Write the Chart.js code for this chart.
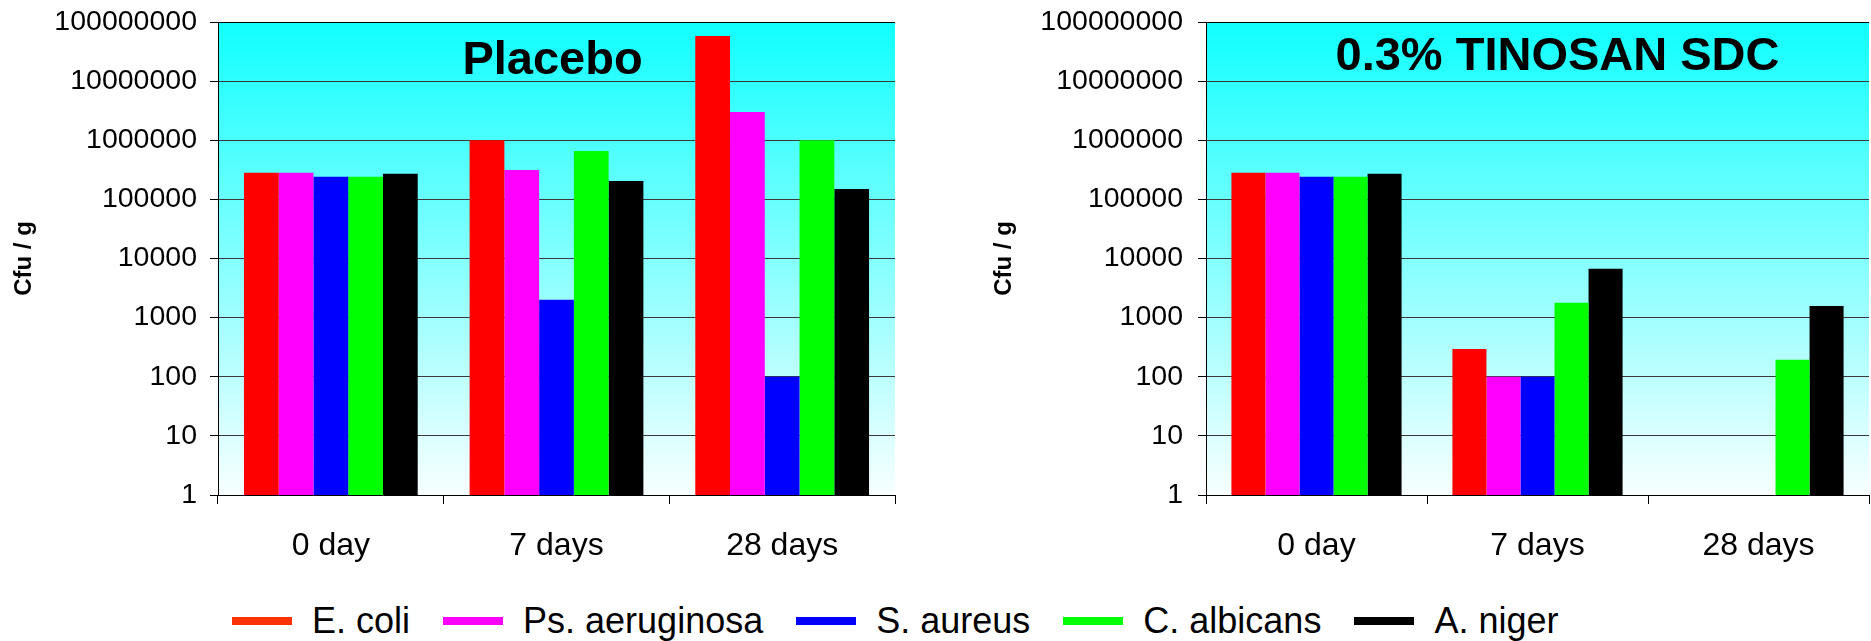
<!DOCTYPE html>
<html>
<head>
<meta charset="utf-8">
<script src="https://cdn.jsdelivr.net/npm/chart.js@4"></script>
<style>
  body { margin: 0; background: #fff; width: 1871px; height: 641px; position: relative; overflow: hidden; font-family: "Liberation Sans", Arial, sans-serif; }
  #leftChart { position: absolute; left: 0; top: 0; }
  #rightChart { position: absolute; left: 935px; top: 0; }
  #legend { position: absolute; left: 232px; top: 601px; display: flex; align-items: center; font-size: 36px; line-height: 40px; color: #000; white-space: nowrap; }
  #legend .item { display: flex; align-items: center; margin-right: 33px; }
  #legend .swatch { width: 60px; height: 8px; margin-right: 20px; }
</style>
</head>
<body>
<canvas id="leftChart" width="935" height="575"></canvas>
<canvas id="rightChart" width="936" height="575"></canvas>
<div id="legend"></div>
<script>
const days = ["0 day", "7 days", "28 days"];
const seriesNames = ["E. coli", "Ps. aeruginosa", "S. aureus", "C. albicans", "A. niger"];
const seriesColors = ["#ff0000", "#ff00ff", "#0000ff", "#00ff00", "#000000"];
const legendColors = ["#ff3300", "#ff00ff", "#0000ff", "#00ff00", "#000000"];

const yTicks = [1, 10, 100, 1000, 10000, 100000, 1000000, 10000000, 100000000];
const yTickLabels = ["1", "10", "100", "1000", "10000", "100000", "1000000", "10000000", "100000000"];

// Placebo
const placeboEColi = [281000, 1000000, 58000000];
const placeboPsAeruginosa = [281000, 315000, 3000000];
const placeboSAureus = [241000, 2000, 100];
const placeboCAlbicans = [241000, 660000, 1000000];
const placeboANiger = [271000, 205000, 150000];

// 0.3% TINOSAN SDC
const tinosanEColi = [281000, 296, null];
const tinosanPsAeruginosa = [281000, 100, null];
const tinosanSAureus = [241000, 100, null];
const tinosanCAlbicans = [241000, 1780, 193];
const tinosanANiger = [271000, 6700, 1580];

Chart.defaults.font.family = '"Liberation Sans", Arial, sans-serif';
Chart.defaults.color = "#000";

const gradientBackground = {
  id: "gradientBackground",
  beforeDraw(chart) {
    const { ctx, chartArea } = chart;
    const g = ctx.createLinearGradient(0, chartArea.top, 0, chartArea.bottom);
    g.addColorStop(0, "rgb(17, 255, 255)");
    g.addColorStop(1, "rgb(248, 255, 255)");
    ctx.save();
    ctx.fillStyle = g;
    ctx.fillRect(chartArea.left, chartArea.top, chartArea.right - chartArea.left, chartArea.bottom - chartArea.top);
    ctx.restore();
  },
};

const innerTitle = {
  id: "innerTitle",
  afterDraw(chart, args, opts) {
    const { ctx, chartArea } = chart;
    ctx.save();
    ctx.font = "bold 47px 'Liberation Sans', Arial, sans-serif";
    ctx.fillStyle = "#000";
    ctx.textAlign = "center";
    ctx.textBaseline = "alphabetic";
    ctx.fillText(opts.text, (chartArea.left + chartArea.right) / 2 + opts.dx, opts.baseline);
    ctx.restore();
  },
};

function makeDatasets(values) {
  return values.map((v, i) => ({
    label: seriesNames[i],
    data: v,
    backgroundColor: seriesColors[i],
    borderWidth: 0,
    barPercentage: 1,
    categoryPercentage: 0.77,
  }));
}

function createChart(id, title, values, cfg) {
  const ctx = document.getElementById(id).getContext("2d");
  return new Chart(ctx, {
    type: "bar",
    data: {
      labels: days,
      datasets: makeDatasets(values),
    },
    options: {
      responsive: false,
      animation: false,
      layout: {
        padding: { top: 22, right: cfg.padRight, left: 0, bottom: 0 },
      },
      scales: {
        x: {
          grid: {
            offset: true,
            drawOnChartArea: false,
            drawTicks: true,
            tickLength: 9,
            tickColor: "#000",
          },
          border: { display: true, color: "#000", width: 1 },
          ticks: {
            font: { size: 32 },
            color: "#000",
            padding: 23,
            maxRotation: 0,
            autoSkip: false,
          },
          afterFit(scale) {
            scale.height = 80;
          },
        },
        y: {
          type: "logarithmic",
          min: 1,
          max: 100000000,
          grid: {
            color: (c) => (c.tick && c.tick.value === 100000000 ? "#000" : "#3a3a3a"),
            tickColor: "#000",
            tickLength: 8,
          },
          border: { display: true, color: "#000", width: 1 },
          ticks: {
            font: { size: 28.5 },
            color: "#000",
            padding: cfg.tickPad,
            callback: (v) => yTickLabels[yTicks.indexOf(v)],
          },
          title: {
            display: true,
            text: "Cfu / g",
            font: { size: 24, weight: "bold" },
            color: "#000",
            padding: { top: cfg.titlePad, bottom: 0 },
          },
          afterBuildTicks(scale) {
            scale.ticks = yTicks.map((v) => ({ value: v }));
          },
          afterFit(scale) {
            scale.width = cfg.axisWidth;
            scale.paddingTop = 0;
            scale.paddingBottom = 0;
          },
        },
      },
      plugins: {
        legend: { display: false },
        tooltip: { enabled: false },
        innerTitle: { text: title, dx: cfg.titleDx, baseline: cfg.titleBaseline },
      },
    },
    plugins: [gradientBackground, innerTitle],
  });
}

createChart("leftChart", "Placebo",
  [placeboEColi, placeboPsAeruginosa, placeboSAureus, placeboCAlbicans, placeboANiger],
  { padRight: 40, axisWidth: 218, tickPad: 13, titlePad: 10, titleDx: -4, titleBaseline: 74 });

createChart("rightChart", "0.3% TINOSAN SDC",
  [tinosanEColi, tinosanPsAeruginosa, tinosanSAureus, tinosanCAlbicans, tinosanANiger],
  { padRight: 2, axisWidth: 271, tickPad: 15, titlePad: 55, titleDx: 20, titleBaseline: 70 });

const legend = document.getElementById("legend");
seriesNames.forEach((name, i) => {
  const item = document.createElement("div");
  item.className = "item";
  const sw = document.createElement("div");
  sw.className = "swatch";
  sw.style.background = legendColors[i];
  const txt = document.createElement("span");
  txt.textContent = name;
  item.appendChild(sw);
  item.appendChild(txt);
  legend.appendChild(item);
});
</script>
</body>
</html>
